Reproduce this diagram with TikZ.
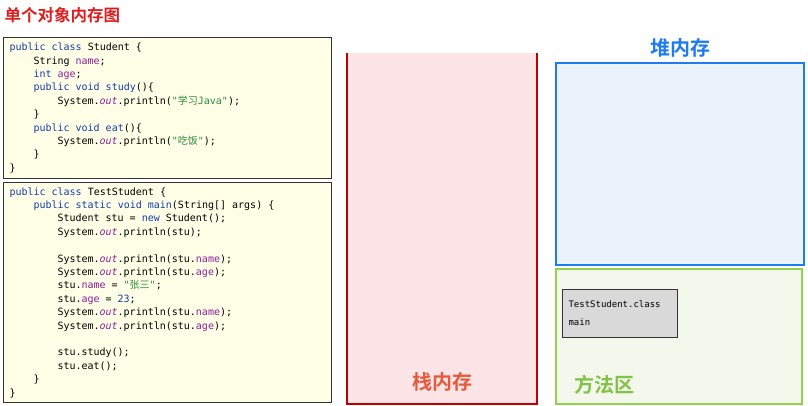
\documentclass[tikz,border=0pt]{standalone}
\usepackage{fontspec}
\setmonofont{DejaVu Sans Mono}
\newfontfamily\cjk{Noto Sans CJK SC}[BoldFont={Noto Sans CJK SC Bold}]
\usetikzlibrary{positioning}
\definecolor{titlered}{RGB}{222, 30, 30}
\definecolor{stackred}{RGB}{192, 0, 0}
\definecolor{stacktext}{RGB}{230, 90, 60}
\definecolor{stackfill}{RGB}{253, 228, 230}
\definecolor{heapblue}{RGB}{30, 123, 240}
\definecolor{heapfill}{RGB}{234, 243, 252}
\definecolor{methodgreen}{RGB}{146, 208, 80}
\definecolor{methodtext}{RGB}{130, 195, 70}
\definecolor{methodfill}{RGB}{243, 247, 236}
\definecolor{codefill}{RGB}{255, 255, 232}
\definecolor{kwblue}{RGB}{20, 60, 170}
\definecolor{fdpurple}{RGB}{140, 30, 150}
\definecolor{strgreen}{RGB}{40, 140, 60}
\newcommand{\kw}[1]{\textcolor{kwblue}{#1}}
\newcommand{\fd}[1]{\textcolor{fdpurple}{#1}}
\newcommand{\sout}{\textcolor{fdpurple}{\itshape out}}
\newcommand{\st}[1]{\textcolor{strgreen}{#1}}
\newcommand{\ind}{\hspace*{2.4em}}
\newcommand{\fixspace}{\spaceskip=0.602em\relax\xspaceskip=0.602em\relax}

\begin{document}
\begin{tikzpicture}[x=1pt, y=-1pt,
	% code listings
	codebox/.style={
			rectangle,
			draw=black!80,
			line width=1pt,
			fill=codefill,
			anchor=north west,
			text width=316pt,
			inner xsep=6pt,
			inner ysep=4pt,
			align=left,
			font=\ttfamily\fontsize{10}{13.4}\selectfont,
			execute at begin node=\fixspace
		},
	areatitle/.style={
			font=\cjk\bfseries\fontsize{20}{20}\selectfont
		},
	classbox/.style={
			rectangle,
			draw=black!80,
			line width=1pt,
			fill=black!15,
			anchor=north west,
			text width=103pt,
			minimum height=48pt,
			inner xsep=6pt,
			align=left,
			font=\ttfamily\fontsize{9}{13}\selectfont
		}
	]

	\useasboundingbox (0,0) rectangle (808,406);

	% title
	\node[anchor=west, text=titlered, font=\cjk\bfseries\fontsize{16.5}{16.5}\selectfont] (title) at (1,15) {单个对象内存图};

	% code
	\node[codebox, minimum height=141pt] (student) at (3,37) {%
		\kw{public class} Student \{\\
		\ind String \fd{name};\\
		\ind \kw{int} \fd{age};\\
		\ind \kw{public void} \kw{study}()\{\\
		\ind\ind System.\sout.println(\st{"{\cjk 学习}Java"});\\
		\ind \}\\
		\ind \kw{public void} \kw{eat}()\{\\
		\ind\ind System.\sout.println(\st{"{\cjk 吃饭}"});\\
		\ind \}\\
		\}};
	\node[codebox, minimum height=220pt] (test) at (3,182) {%
		\kw{public class} TestStudent \{\\
		\ind \kw{public static void} \kw{main}(String[] args) \{\\
		\ind\ind Student stu = \kw{new} Student();\\
		\ind\ind System.\sout.println(stu);\\
		\mbox{}\\
		\ind\ind System.\sout.println(stu.\fd{name});\\
		\ind\ind System.\sout.println(stu.\fd{age});\\
		\ind\ind stu.\fd{name} = \st{"{\cjk 张三}"};\\
		\ind\ind stu.\fd{age} = \kw{23};\\
		\ind\ind System.\sout.println(stu.\fd{name});\\
		\ind\ind System.\sout.println(stu.\fd{age});\\
		\mbox{}\\
		\ind\ind stu.study();\\
		\ind\ind stu.eat();\\
		\ind \}\\
		\}};

	% stack
	\coordinate (stacktl) at (347,53);
	\coordinate (stackbr) at (537,404);
	\fill[stackfill] (stacktl) rectangle (stackbr);
	\draw[stackred, line width=2pt] (stacktl) |- (stackbr) -- (stackbr |- stacktl);
	\node[areatitle, text=stacktext] (stack) at (442,382) {栈内存};

	% heap
	\node[rectangle, draw=heapblue, line width=2pt, fill=heapfill, anchor=north west,
		minimum width=248pt, minimum height=202pt] (heap) at (555,62) {};
	\node[areatitle, text=heapblue, above=1pt of heap] (heaplabel) {堆内存};

	% method area
	\node[rectangle, draw=methodgreen, line width=2pt, fill=methodfill, anchor=north west,
		minimum width=246pt, minimum height=135pt] (method) at (555,268) {};
	\node[areatitle, text=methodtext] (methodlabel) at (604,385) {方法区};
	\node[classbox] (cls) at (562,289) {TestStudent.class\\[5pt]main};

\end{tikzpicture}
\end{document}
